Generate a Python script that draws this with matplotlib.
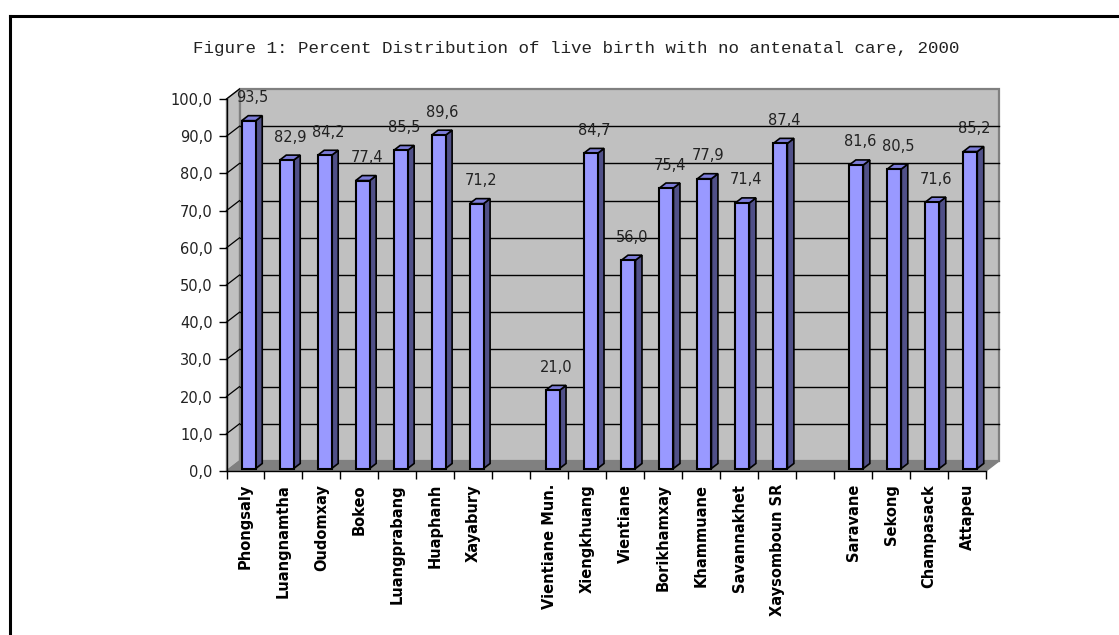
import matplotlib
matplotlib.use("Agg")
import matplotlib.pyplot as plt
from matplotlib.patches import Polygon
from matplotlib.lines import Line2D

# ---- data ----
categories = ["Phongsaly", "Luangnamtha", "Oudomxay", "Bokeo", "Luangprabang",
              "Huaphanh", "Xayabury", "", "Vientiane Mun.", "Xiengkhuang",
              "Vientiane", "Borikhamxay", "Khammuane", "Savannakhet",
              "Xaysomboun SR", "", "Saravane", "Sekong", "Champasack", "Attapeu"]
values = [93.5, 82.9, 84.2, 77.4, 85.5, 89.6, 71.2, None, 21.0, 84.7,
          56.0, 75.4, 77.9, 71.4, 87.4, None, 81.6, 80.5, 71.6, 85.2]
yticks = [0, 10, 20, 30, 40, 50, 60, 70, 80, 90, 100]
title = "Figure 1: Percent Distribution of live birth with no antenatal care, 2000"

W, H = 1119, 635
fig = plt.figure(figsize=(W / 100, H / 100), dpi=100)

# axes = front plane of the 3D box (pixel geometry)
x0_px, x1_px = 226.5, 986.0
y0_px, y1_px = 471.0, 99.0
ax = fig.add_axes([x0_px / W, (H - y0_px) / H, (x1_px - x0_px) / W, (y0_px - y1_px) / H])
n = len(categories)
ax.set_xlim(0, n)
ax.set_ylim(0, 100)
ax.patch.set_visible(False)

sx = n / (x1_px - x0_px)      # slots per px
sy = 100 / (y0_px - y1_px)    # units per px
DX = 13 * sx
DY = 10 * sy

wall = "#C0C0C0"
edge_grey = "#808080"

# back wall
ax.add_patch(Polygon([(DX, DY), (n + DX, DY), (n + DX, 100 + DY), (DX, 100 + DY)],
                     closed=True, facecolor=wall, edgecolor=edge_grey, lw=1.6,
                     clip_on=False, zorder=1))
# left side wall
ax.add_patch(Polygon([(0, 0), (DX, DY), (DX, 100 + DY), (0, 100)],
                     closed=True, facecolor=wall, edgecolor=edge_grey, lw=1.0,
                     clip_on=False, zorder=1))
# floor
ax.add_patch(Polygon([(0, 0), (n, 0), (n + DX, DY), (DX, DY)],
                     closed=True, facecolor="#808080", edgecolor=edge_grey, lw=1.0,
                     clip_on=False, zorder=1.5))

# gridlines
for v in yticks[1:-1]:
    ax.add_line(Line2D([DX, n + DX], [v + DY, v + DY], color="black", lw=1.0,
                       clip_on=False, zorder=2))
for v in yticks[1:]:
    ax.add_line(Line2D([0, DX], [v, v + DY], color="black", lw=0.9,
                       clip_on=False, zorder=2))

# bars
bw = 14 * sx
fx, fy = 0.25 * DX, 0.25 * DY
bdx, bdy = 0.5 * DX, 0.5 * DY
front_c = "#9999FF"
side_c = "#505088"
top_c = "#7C7CD8"
for i, v in enumerate(values):
    if v is None:
        continue
    L = i + 0.5 - bw / 2 + fx
    R = i + 0.5 + bw / 2 + fx
    b = fy
    t = v + fy
    z = 3 + i * 0.01
    ax.add_patch(Polygon([(R, b), (R + bdx, b + bdy), (R + bdx, t + bdy), (R, t)],
                         closed=True, facecolor=side_c, edgecolor="black", lw=1.2,
                         clip_on=False, zorder=z))
    ax.add_patch(Polygon([(L, t), (R, t), (R + bdx, t + bdy), (L + bdx, t + bdy)],
                         closed=True, facecolor=top_c, edgecolor="black", lw=1.2,
                         clip_on=False, zorder=z))
    ax.add_patch(Polygon([(L, b), (R, b), (R, t), (L, t)],
                         closed=True, facecolor=front_c, edgecolor="black", lw=1.5,
                         clip_on=False, zorder=z + 0.005))
    ax.annotate(f"{v:.1f}".replace(".", ","), xy=(i + 0.5 + fx, t),
                xytext=(4, 23), textcoords="offset pixels",
                ha="center", va="center", fontsize=10.5, color="#222222",
                zorder=6, annotation_clip=False)

# axes lines / ticks
for s in ["top", "right"]:
    ax.spines[s].set_visible(False)
for s in ["left", "bottom"]:
    ax.spines[s].set_color("black")
    ax.spines[s].set_linewidth(1.0)
    ax.spines[s].set_zorder(5)

ax.set_yticks(yticks)
ax.set_yticklabels([f"{v:.1f}".replace(".", ",") for v in yticks],
                   fontsize=10.5, color="#222222")
ax.tick_params(axis="y", direction="out", length=6, width=1.0, pad=4)

ax.set_xticks(range(n + 1))
ax.set_xticklabels([])
ax.tick_params(axis="x", which="major", direction="out", length=6, width=1.0)
ax.set_xticks([i + 0.5 for i in range(n)], minor=True)
ax.set_xticklabels(categories, minor=True, rotation=90, fontsize=10.5,
                   fontweight="bold", va="top", ha="center")
ax.tick_params(axis="x", which="minor", length=0, pad=9.4)

# title
fig.text(576 / W, 1 - 49 / H, title, ha="center", va="center",
         fontsize=12.6, family="Liberation Mono", color="#222222")

# outer border (left and top edges visible)
fig.add_artist(Line2D([9.5 / W, 9.5 / W], [0, 1 - 15.5 / H], transform=fig.transFigure,
                      color="black", lw=2.2))
fig.add_artist(Line2D([9.5 / W, 1], [1 - 15.5 / H, 1 - 15.5 / H], transform=fig.transFigure,
                      color="black", lw=2.2))

fig.savefig("out.png", dpi=100, facecolor="white")
